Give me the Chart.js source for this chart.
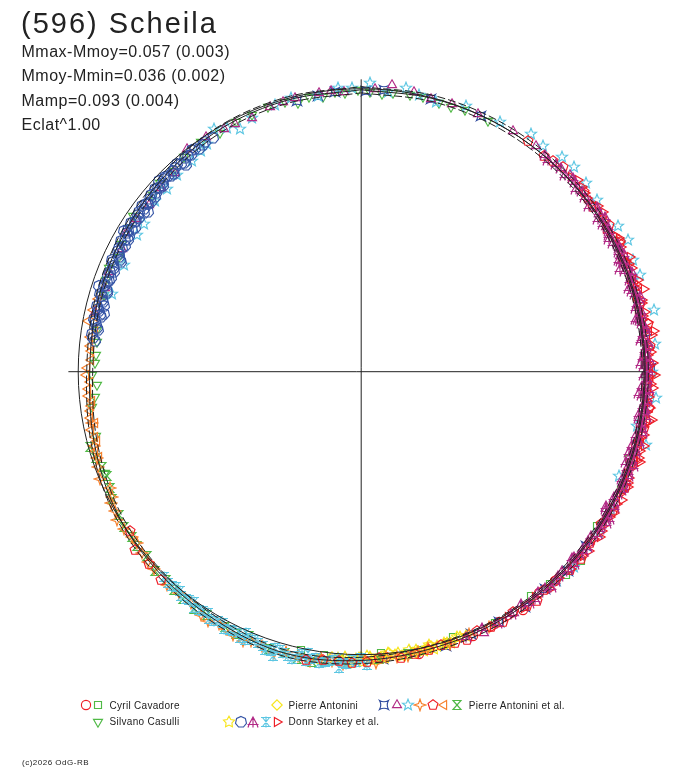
<!DOCTYPE html>
<html>
<head>
<meta charset="utf-8">
<script src="https://cdn.jsdelivr.net/npm/chart.js@4.4.0/dist/chart.umd.min.js"></script>
<style>
html,body{margin:0;padding:0;background:#fff;}
#wrap{position:relative;width:688px;height:768px;overflow:hidden;background:#fff;}
#c{position:absolute;left:0;top:0;}
.t{position:absolute;font-family:"Liberation Sans",Arial,sans-serif;color:#222;white-space:nowrap;line-height:1;}
.ic{position:absolute;image-rendering:pixelated;}
</style>
</head>
<body>
<div id="wrap"><canvas id="c" width="688" height="768"></canvas></div>
<script>
// ---------- texts ----------
const titleText = "(596) Scheila";
const statLines = ["Mmax-Mmoy=0.057 (0.003)", "Mmoy-Mmin=0.036 (0.002)", "Mamp=0.093 (0.004)", "Eclat^1.00"];
const creditText = "(c)2026 OdG-RB";

// ---------- fitted light curve (phase, magnitude relative to mean) ----------
const fitPhase = [0.000,0.0417,0.0833,0.125,0.1667,0.2083,0.250,0.2917,0.3333,0.375,0.4167,0.4583,
                  0.500,0.5417,0.5833,0.625,0.6667,0.7083,0.750,0.7917,0.8333,0.875,0.9167,0.9583];
const fitMag   = [0.006,0.004,0.002,0.000,-0.004,-0.004,-0.004,-0.004,-0.004,-0.004,-0.006,-0.008,
                  -0.020,-0.031,-0.018,-0.007,0.004,0.026,0.045,0.040,0.034,0.023,0.011,0.008];
const fitErr = 0.012;

// ---------- observations [phase, dmag] ----------
const cavadoreCircle = [[0.381,-0.010],[0.392,-0.004],[0.405,-0.016],[0.420,-0.008],[0.436,-0.014],[0.451,-0.006],[0.468,-0.018],[0.486,-0.012],[0.263,-0.020],[0.289,-0.012]];
const cavadoreSquare = [[0.300,0.004],[0.318,-0.008],[0.342,0.006],[0.363,-0.025],[0.374,-0.020],[0.384,-0.002],[0.397,0.008],[0.422,-0.007],[0.447,0.011],[0.449,-0.004],[0.466,-0.004],[0.489,0.006],[0.512,-0.016],[0.521,-0.010],[0.534,-0.006]];
const casulli = [[0.742,0.072],[0.729,0.046],[0.755,0.064],[0.768,0.067],[0.796,0.058],[0.812,0.040],[0.828,0.046],[0.845,0.026],[0.862,0.038],[0.880,0.030],[0.903,0.011],[0.926,0.014],[0.946,0.009],[0.956,0.012],[0.963,0.029],[0.978,0.024],[0.991,0.017],[0.998,0.007],[0.012,0.020],[0.018,0.012],[0.028,0.010],[0.045,0.016],[0.060,0.006],[0.075,0.010],[0.690,0.030],[0.712,0.040],
  [0.735,0.060],[0.748,0.054],[0.760,0.070],[0.775,0.062],[0.805,0.048],[0.820,0.060],[0.838,0.040],[0.870,0.028],[0.890,0.020],[0.915,0.022],[0.936,0.018],[0.970,0.016],[0.985,0.008],[0.005,0.014],[0.035,0.006],[0.052,0.014]];
const antoniniDiamond = [[0.452,-0.008],[0.460,0.002],[0.468,-0.004],[0.476,-0.010],[0.484,0.004],[0.492,-0.014],[0.500,-0.006],[0.508,-0.020],[0.516,-0.012],[0.524,-0.026]];
const alConcave = [[0.963,0.020],[0.975,0.016],[0.985,0.010],[0.003,0.012],[0.013,0.004],[0.040,0.006],[0.070,0.002],[0.232,-0.014],[0.248,-0.026],[0.355,-0.006],[0.372,-0.014],[0.388,-0.004],[0.403,-0.012],[0.420,-0.008],[0.437,-0.002],[0.452,-0.014],[0.470,-0.006],[0.488,-0.016]];
const alTriangle = [[0.785,0.040],[0.800,0.052],[0.825,0.055],[0.845,0.044],[0.868,0.046],[0.880,0.041],[0.894,0.001],[0.907,0.006],[0.918,0.016],[0.935,0.027],[0.947,0.014],[0.962,0.007],[0.976,0.006],[0.990,0.012],[0.017,-0.017],[0.030,-0.004],[0.052,0.004],[0.148,-0.010],[0.183,-0.002],[0.226,-0.012],[0.268,-0.006],[0.312,-0.014],[0.358,-0.004],[0.410,-0.010],[0.430,-0.018],
  [0.810,0.048],[0.835,0.040],[0.856,0.052],[0.925,0.020],[0.955,0.010],[0.983,0.004],[0.008,0.002],[0.040,0.008],[0.068,0.000],[0.090,-0.004],[0.105,-0.006],[0.130,-0.012],[0.165,-0.004],[0.205,-0.016],[0.247,-0.004],[0.290,-0.016],[0.335,-0.006],[0.385,-0.012]];
const alStar = [[0.798,0.086],[0.817,0.094],[0.837,0.084],[0.845,0.079],[0.870,0.066],[0.892,0.050],[0.900,0.042],[0.913,-0.003],[0.926,0.048],[0.935,0.027],[0.950,0.012],[0.987,-0.004],[0.005,-0.019],[0.015,0.010],[0.025,-0.014],[0.043,0.014],[0.081,-0.011],[0.099,-0.034],[0.120,-0.039],[0.128,-0.046],[0.139,-0.037],[0.168,-0.047],[0.177,-0.055],[0.197,-0.046],[0.217,-0.060],[0.235,-0.044],[0.264,-0.050],[0.281,0.006],[0.311,0.020],[0.330,-0.010],[0.368,-0.021],[0.380,-0.012],
  [0.860,0.060],[0.880,0.056],[0.905,0.034],[0.920,0.020],[0.960,0.004],[0.975,0.016],[0.995,0.000],[0.033,0.004],[0.060,-0.008],[0.108,-0.026],[0.150,-0.030],[0.188,-0.040],[0.250,-0.030],[0.290,-0.040],[0.345,-0.016]];
const alStar4 = [[0.695,0.013],[0.681,0.022],[0.673,0.003],[0.663,-0.009],[0.651,0.002],[0.640,-0.006],[0.629,-0.013],[0.610,-0.012],[0.593,-0.030],[0.582,-0.024],[0.572,-0.036],[0.562,-0.028],[0.548,-0.040],[0.535,-0.030],[0.522,-0.022],[0.510,-0.034],[0.498,-0.018],[0.486,-0.010],[0.474,-0.016],[0.462,-0.004],[0.450,-0.012],[0.438,-0.002],[0.426,-0.010],[0.707,0.024],[0.720,0.034],
  [0.700,0.020],[0.688,0.004],[0.676,0.016],[0.668,0.000],[0.657,-0.006],[0.646,0.004],[0.634,-0.010],[0.618,-0.020],[0.601,-0.016],[0.588,-0.036],[0.577,-0.028],[0.566,-0.042],[0.555,-0.032],[0.542,-0.026],[0.528,-0.040],[0.516,-0.028],[0.504,-0.022],[0.492,-0.030],[0.480,-0.014],[0.468,-0.008]];
const alPentagon = [[0.100,-0.004],[0.112,0.002],[0.118,-0.006],[0.142,-0.012],[0.165,-0.020],[0.188,-0.008],[0.212,-0.016],[0.236,-0.026],[0.258,-0.012],[0.281,-0.020],[0.302,-0.006],[0.330,-0.015],[0.352,-0.010],[0.371,-0.018],[0.389,-0.007],[0.402,-0.013],[0.418,-0.016],[0.433,-0.004],[0.447,-0.012],[0.462,-0.010],[0.478,-0.022],[0.505,-0.030],[0.512,-0.024],[0.521,-0.028],[0.530,-0.036],[0.622,-0.020],[0.633,-0.014],[0.644,-0.020],[0.654,0.008],
  [0.124,-0.014],[0.152,-0.004],[0.176,-0.024],[0.200,-0.010],[0.224,-0.030],[0.247,-0.018],[0.270,-0.028],[0.292,-0.008],[0.316,-0.022],[0.340,-0.004],[0.362,-0.020],[0.380,-0.008],[0.396,-0.022],[0.410,-0.004],[0.425,-0.012],[0.440,-0.020],[0.455,-0.006],[0.470,-0.016],[0.490,-0.012],[0.497,-0.026]];
const alLeftTri = [[0.700,0.030],[0.709,0.038],[0.716,0.026],[0.723,0.031],[0.730,0.040],[0.736,0.034],[0.744,0.044],[0.752,0.034],[0.757,0.050],[0.762,0.048],[0.770,0.036],[0.779,0.020],[0.786,0.032],[0.793,0.040],
  [0.704,0.022],[0.712,0.034],[0.720,0.046],[0.727,0.036],[0.733,0.048],[0.740,0.038],[0.748,0.030],[0.765,0.042],[0.775,0.054],[0.782,0.046]];
const alHourglass = [[0.707,0.008],[0.694,0.026],[0.681,0.022],[0.665,0.007],[0.651,0.002],[0.637,0.003],[0.620,-0.008],[0.606,-0.022],[0.578,-0.021],[0.564,-0.015],[0.551,-0.034],[0.535,-0.040],[0.520,-0.030],[0.508,-0.036],[0.490,-0.018],[0.474,-0.010],
  [0.700,0.016],[0.688,0.030],[0.675,0.012],[0.658,0.000],[0.645,-0.004],[0.628,-0.012],[0.613,-0.016],[0.598,-0.026],[0.590,-0.018],[0.571,-0.028],[0.542,-0.030],[0.527,-0.042]];
const starkeyStar = [[0.440,-0.004],[0.445,0.006],[0.449,-0.010],[0.453,0.000],[0.457,-0.006],[0.461,0.008],[0.465,-0.012],[0.469,-0.002],[0.473,0.004],[0.477,-0.014],[0.481,-0.006],[0.485,0.002],[0.489,-0.010],[0.493,-0.018],[0.497,-0.004],[0.501,-0.012],[0.505,-0.022],[0.509,-0.008],[0.513,-0.016],[0.517,-0.026],
  [0.443,0.002],[0.451,-0.006],[0.459,-0.014],[0.463,-0.002],[0.471,-0.010],[0.479,0.000],[0.487,-0.016],[0.495,-0.008],[0.499,-0.024],[0.503,-0.014],[0.507,-0.030],[0.511,-0.020]];
const starkeyHept = [[0.768,0.058],[0.772,0.044],[0.775,0.066],[0.778,0.052],[0.781,0.040],[0.784,0.061],[0.787,0.049],[0.790,0.070],[0.793,0.055],[0.796,0.043],[0.799,0.063],[0.802,0.050],[0.805,0.058],[0.808,0.045],[0.811,0.066],[0.814,0.052],[0.817,0.040],[0.820,0.059],[0.823,0.047],[0.826,0.055],[0.829,0.038],[0.832,0.060],[0.835,0.044],[0.838,0.052],[0.841,0.036],[0.844,0.048],[0.847,0.041],[0.850,0.055],[0.853,0.033],[0.856,0.046],[0.859,0.038],[0.862,0.050],[0.865,0.030],[0.868,0.042],[0.871,0.035],[0.874,0.026],[0.877,0.040],[0.880,0.031],[0.884,0.022],[0.888,0.036],[0.892,0.027],[0.896,0.018],[0.900,0.030],[0.905,0.021],[0.910,0.026],
  [0.770,0.050],[0.776,0.058],[0.780,0.047],[0.783,0.069],[0.786,0.055],[0.789,0.043],[0.792,0.062],[0.795,0.050],[0.798,0.068],[0.801,0.046],[0.804,0.054],[0.807,0.064],[0.810,0.049],[0.813,0.058],[0.816,0.046],[0.819,0.067],[0.822,0.053],[0.825,0.044],[0.828,0.061],[0.831,0.049],[0.834,0.056],[0.837,0.041],[0.840,0.058],[0.843,0.045],[0.846,0.052],[0.849,0.039],[0.852,0.047],[0.855,0.040],[0.858,0.053],[0.861,0.034],[0.864,0.044],[0.867,0.037],[0.870,0.045],[0.873,0.031],[0.876,0.034],[0.879,0.042],[0.882,0.028],[0.886,0.033],[0.890,0.024],[0.894,0.032],[0.898,0.022],[0.903,0.027],
  [0.785,0.078],[0.800,0.030],[0.818,0.076],[0.835,0.028],[0.852,0.066],[0.870,0.020],[0.888,0.048]];
const starkeyTripod = [[0.112,-0.002],[0.120,-0.004],[0.128,0.002],[0.135,-0.010],[0.141,-0.006],[0.150,0.004],[0.156,-0.012],[0.163,-0.002],[0.168,-0.008],[0.172,0.006],[0.177,-0.015],[0.181,-0.004],[0.186,0.001],[0.190,-0.011],[0.194,-0.019],[0.198,-0.003],[0.202,0.008],[0.206,-0.007],[0.210,-0.014],[0.214,0.003],[0.218,-0.009],[0.221,-0.001],[0.225,-0.017],[0.229,-0.006],[0.232,0.005],[0.236,-0.012],[0.240,-0.004],[0.243,-0.020],[0.247,0.002],[0.250,-0.008],[0.254,-0.013],[0.258,0.007],[0.261,-0.005],[0.265,-0.016],[0.269,-0.002],[0.272,-0.010],[0.276,0.004],[0.280,-0.007],[0.284,-0.018],[0.288,-0.003],[0.292,0.009],[0.296,-0.011],[0.300,-0.006],[0.305,0.001],[0.309,-0.014],[0.314,-0.004],[0.318,-0.009],[0.323,0.005],[0.328,-0.012],[0.333,-0.002],[0.338,-0.016],[0.343,-0.007],[0.349,0.003],[0.355,-0.010],[0.361,-0.005],[0.367,-0.013],[0.374,0.002],[0.381,-0.008],[0.388,-0.003],[0.396,-0.011],[0.404,0.004],[0.412,-0.006],[0.421,-0.009],[0.430,0.000],[0.440,-0.005],[0.160,-0.020],[0.185,0.010],[0.245,0.012],[0.275,-0.022],[0.302,0.012],[0.335,-0.020],[0.365,0.008],
  [0.115,0.004],[0.124,-0.008],[0.132,-0.014],[0.138,0.004],[0.145,-0.003],[0.153,-0.016],[0.159,0.007],[0.166,-0.011],[0.170,-0.001],[0.175,0.003],[0.179,-0.009],[0.183,-0.018],[0.188,-0.006],[0.192,0.004],[0.196,-0.013],[0.200,-0.007],[0.204,0.000],[0.208,-0.021],[0.212,-0.004],[0.216,-0.012],[0.220,0.006],[0.223,-0.008],[0.227,-0.014],[0.231,0.000],[0.234,-0.019],[0.238,-0.006],[0.242,0.003],[0.245,-0.010],[0.249,-0.016],[0.252,0.001],[0.256,-0.006],[0.260,-0.019],[0.263,0.003],[0.267,-0.009],[0.271,-0.014],[0.274,0.008],[0.278,-0.004],[0.282,-0.012],[0.286,0.002],[0.290,-0.015],[0.294,-0.005],[0.298,0.004],[0.303,-0.017],[0.307,-0.008],[0.312,0.006],[0.316,-0.012],[0.321,-0.001],[0.326,-0.007],[0.331,0.008],[0.336,-0.010],[0.341,-0.003],[0.346,-0.013],[0.352,0.000],[0.358,-0.008],[0.364,0.005],[0.371,-0.010],[0.378,-0.002],[0.385,-0.014],[0.392,0.003],[0.400,-0.007],
  [0.190,0.016],[0.220,0.014],[0.262,0.018],[0.296,0.012],[0.330,0.016]];
const starkeyAster = [[0.505,-0.018],[0.510,-0.030],[0.515,-0.022],[0.520,-0.034],[0.525,-0.026],[0.530,-0.040],[0.535,-0.028],[0.540,-0.036],[0.545,-0.024],[0.550,-0.038],[0.555,-0.030],[0.560,-0.020],[0.565,-0.032],[0.570,-0.018],[0.575,-0.026],[0.580,-0.012],[0.585,-0.022],[0.590,-0.010],[0.595,-0.018],[0.600,-0.006],[0.605,-0.014],[0.610,-0.004],[0.615,-0.010],
  [0.500,-0.012],[0.503,-0.026],[0.508,-0.036],[0.513,-0.016],[0.518,-0.028],[0.523,-0.042],[0.528,-0.030],[0.533,-0.020],[0.538,-0.044],[0.543,-0.032],[0.548,-0.022],[0.553,-0.040],[0.558,-0.028],[0.563,-0.018],[0.568,-0.036],[0.573,-0.022],[0.578,-0.030],[0.583,-0.016],[0.588,-0.026],[0.593,-0.012],[0.598,-0.022],[0.603,-0.008],[0.608,-0.016],[0.613,-0.002],[0.618,-0.012],[0.622,-0.004],
  [0.512,-0.050],[0.530,-0.010],[0.548,-0.052],[0.566,-0.008],[0.497,-0.036]];
const starkeyRightTri = [[0.131,-0.010],[0.139,-0.018],[0.146,-0.006],[0.153,-0.021],[0.159,-0.012],[0.166,-0.003],[0.171,-0.016],[0.176,-0.024],[0.182,-0.009],[0.187,-0.014],[0.192,-0.028],[0.197,-0.006],[0.201,-0.019],[0.205,-0.011],[0.210,-0.025],[0.215,-0.004],[0.219,-0.017],[0.223,-0.030],[0.228,-0.013],[0.233,-0.008],[0.237,-0.022],[0.241,-0.015],[0.245,-0.034],[0.249,-0.010],[0.253,-0.020],[0.257,-0.027],[0.262,-0.007],[0.266,-0.018],[0.270,-0.031],[0.275,-0.012],[0.279,-0.023],[0.283,-0.005],[0.287,-0.019],[0.291,-0.036],[0.296,-0.014],[0.300,-0.025],[0.305,-0.009],[0.310,-0.021],[0.315,-0.030],[0.320,-0.012],[0.326,-0.018],[0.331,-0.026],[0.337,-0.008],[0.343,-0.020],[0.349,-0.013],[0.356,-0.024],[0.363,-0.006],[0.370,-0.016],[0.378,-0.011],[0.386,-0.019],[0.395,-0.004],[0.404,-0.014],[0.414,-0.009],[0.424,-0.017],
  [0.135,-0.022],[0.143,-0.013],[0.150,-0.004],[0.157,-0.026],[0.162,-0.015],[0.169,-0.008],[0.174,-0.029],[0.179,-0.018],[0.184,-0.003],[0.189,-0.022],[0.195,-0.012],[0.199,-0.031],[0.203,-0.016],[0.208,-0.006],[0.212,-0.021],[0.217,-0.027],[0.221,-0.010],[0.226,-0.019],[0.230,-0.038],[0.235,-0.016],[0.239,-0.028],[0.243,-0.006],[0.247,-0.020],[0.251,-0.029],[0.255,-0.014],[0.259,-0.036],[0.264,-0.024],[0.268,-0.010],[0.272,-0.022],[0.277,-0.033],[0.281,-0.015],[0.285,-0.026],[0.289,-0.010],[0.294,-0.024],[0.298,-0.031],[0.303,-0.017],[0.308,-0.006],[0.313,-0.024],[0.318,-0.015],[0.323,-0.028],[0.329,-0.010],[0.334,-0.020],[0.340,-0.014],[0.346,-0.027],[0.353,-0.009],[0.360,-0.019],[0.367,-0.012],
  [0.205,-0.042],[0.228,-0.046],[0.252,-0.040],[0.276,-0.044],[0.300,-0.038],[0.186,-0.036]];

// ---------- geometry / style constants ----------
const R = 288;                 // reference circle radius (scale units)
const AX_LEFT = -298, AX_RIGHT = 289, AX_TOP = 297, AX_BOTTOM = -288;
const COL = {red:'#ee1c25', green:'#4fb945', yellow:'#f7e51b', blue:'#2f4a9e', blue2:'#3554a6', magenta:'#b22a86', cyan:'#5cc6e2', orange:'#f7802c', ink:'#222222'};

function toXY(ph, dm) {
  const th = (90 - 360 * ph) * Math.PI / 180;
  const r = R * Math.pow(10, -0.4 * dm);
  return {x: r * Math.cos(th), y: r * Math.sin(th)};
}

function makeIcon(kind, color) {
  const s = 14, c = 7;
  const cv = document.createElement('canvas');
  cv.width = s; cv.height = s;
  const g = cv.getContext('2d');
  g.strokeStyle = color; g.lineWidth = 1.15; g.beginPath();
  const poly = (n, r, rot) => { for (let i = 0; i < n; i++) { const a = rot + i * 2 * Math.PI / n; const x = c + r * Math.sin(a), y = c - r * Math.cos(a); if (i) g.lineTo(x, y); else g.moveTo(x, y); } g.closePath(); };
  const star = (n, ro, ri) => { for (let i = 0; i < 2 * n; i++) { const a = i * Math.PI / n; const r = i % 2 ? ri : ro; const x = c + r * Math.sin(a), y = c - r * Math.cos(a); if (i) g.lineTo(x, y); else g.moveTo(x, y); } g.closePath(); };
  switch (kind) {
    case 'circle': g.arc(c, c, 4.6, 0, 2 * Math.PI); break;
    case 'square': g.rect(c - 3.5, c - 3.5, 7, 7); break;
    case 'tri': poly(3, 5.2, 0); break;
    case 'dtri': poly(3, 5.2, Math.PI); break;
    case 'ltri': poly(3, 5.2, -Math.PI / 2); break;
    case 'rtri': poly(3, 5.2, Math.PI / 2); break;
    case 'diamond': poly(4, 5.2, 0); break;
    case 'pent': poly(5, 5.2, 0); break;
    case 'hept': poly(7, 5.6, 0); break;
    case 'star5': star(5, 5.8, 2.5); break;
    case 'star5b': star(5, 5.8, 3.1); break;
    case 'star4': star(4, 5.8, 2.1); break;
    case 'concave':
      g.moveTo(c - 4.5, c - 4.5);
      g.quadraticCurveTo(c, c - 2, c + 4.5, c - 4.5);
      g.quadraticCurveTo(c + 2, c, c + 4.5, c + 4.5);
      g.quadraticCurveTo(c, c + 2, c - 4.5, c + 4.5);
      g.quadraticCurveTo(c - 2, c, c - 4.5, c - 4.5);
      g.closePath(); break;
    case 'hourglass':
      g.moveTo(c - 4, c - 4.5); g.lineTo(c + 4, c - 4.5); g.lineTo(c - 4, c + 4.5); g.lineTo(c + 4, c + 4.5); g.closePath(); break;
    case 'tripod':
      g.moveTo(c, c - 5); g.lineTo(c + 4, c + 2.5); g.lineTo(c - 4, c + 2.5); g.closePath();
      g.moveTo(c - 5.5, c + 2.5); g.lineTo(c + 5.5, c + 2.5);
      g.moveTo(c, c - 5); g.lineTo(c, c + 5.5);
      g.moveTo(c - 4, c + 2.5); g.lineTo(c - 5, c + 5.5);
      g.moveTo(c + 4, c + 2.5); g.lineTo(c + 5, c + 5.5); break;
    case 'aster':
      g.moveTo(c - 5, c - 4.5); g.lineTo(c + 5, c - 4.5);
      g.moveTo(c - 3.5, c - 4.5); g.lineTo(c + 3.5, c + 4.5);
      g.moveTo(c + 3.5, c - 4.5); g.lineTo(c - 3.5, c + 4.5);
      g.moveTo(c - 5, c + 4.5); g.lineTo(c + 5, c + 4.5);
      g.moveTo(c, c - 5.5); g.lineTo(c, c + 5.5); break;
  }
  g.stroke();
  return cv;
}

const series = [
  {data: starkeyHept, kind: 'hept', color: COL.blue2},
  {data: starkeyTripod, kind: 'tripod', color: COL.magenta},
  {data: starkeyRightTri, kind: 'rtri', color: COL.red},
  {data: alPentagon, kind: 'pent', color: COL.red},
  {data: alTriangle, kind: 'tri', color: COL.magenta},
  {data: alStar, kind: 'star5', color: COL.cyan},
  {data: starkeyAster, kind: 'aster', color: COL.cyan},
  {data: alStar4, kind: 'star4', color: COL.orange},
  {data: alLeftTri, kind: 'ltri', color: COL.orange},
  {data: alHourglass, kind: 'hourglass', color: COL.green},
  {data: starkeyStar, kind: 'star5b', color: COL.yellow},
  {data: antoniniDiamond, kind: 'diamond', color: COL.yellow},
  {data: alConcave, kind: 'concave', color: COL.blue},
  {data: casulli, kind: 'dtri', color: COL.green},
  {data: cavadoreSquare, kind: 'square', color: COL.green},
  {data: cavadoreCircle, kind: 'circle', color: COL.red}
];

function fitLine(offset) {
  const pts = [];
  for (let i = 0; i <= fitPhase.length; i++) {
    const k = i % fitPhase.length;
    pts.push(toXY(fitPhase[k], fitMag[k] + offset));
  }
  return pts;
}

const lineDatasets = [
  {data: fitLine(0), showLine: true, borderColor: COL.ink, borderWidth: 1, pointRadius: 0, tension: 0.34, fill: false},
  {data: fitLine(-fitErr), showLine: true, borderColor: COL.ink, borderWidth: 1, borderDash: [8, 3], pointRadius: 0, tension: 0.34, fill: false},
  {data: fitLine(fitErr), showLine: true, borderColor: COL.ink, borderWidth: 1, borderDash: [8, 3], pointRadius: 0, tension: 0.34, fill: false}
];

const pointDatasets = series.map(s => ({
  data: s.data.map(p => toXY(p[0], p[1])),
  showLine: false,
  pointStyle: makeIcon(s.kind, s.color),
  pointRadius: 5
}));

const framePlugin = {
  id: 'frame',
  beforeDatasetsDraw(chart) { chart.ctx.imageSmoothingEnabled = false; },
  afterDatasetsDraw(chart) {
    const ctx = chart.ctx, xs = chart.scales.x, ys = chart.scales.y;
    const cx = xs.getPixelForValue(0), cy = ys.getPixelForValue(0);
    ctx.save();
    ctx.strokeStyle = COL.ink; ctx.lineWidth = 1; ctx.setLineDash([]);
    ctx.beginPath();
    ctx.arc(cx, cy, xs.getPixelForValue(R) - cx, 0, 2 * Math.PI);
    ctx.stroke();
    ctx.beginPath();
    ctx.moveTo(xs.getPixelForValue(AX_LEFT), cy); ctx.lineTo(xs.getPixelForValue(AX_RIGHT), cy);
    ctx.moveTo(cx, ys.getPixelForValue(AX_TOP)); ctx.lineTo(cx, ys.getPixelForValue(AX_BOTTOM));
    ctx.stroke();
    ctx.restore();
  }
};

new Chart(document.getElementById('c'), {
  type: 'scatter',
  data: {datasets: lineDatasets.concat(pointDatasets)},
  options: {
    responsive: false, animation: false, events: [],
    layout: {padding: 0},
    plugins: {legend: {display: false}, tooltip: {enabled: false}, title: {display: false}},
    scales: {
      x: {type: 'linear', min: -361.5, max: 326.5, display: false},
      y: {type: 'linear', min: -396.5, max: 371.5, display: false}
    }
  },
  plugins: [framePlugin]
});

// ---------- HTML texts & legend ----------
const wrap = document.getElementById('wrap');
function addText(txt, left, top, size, spacing) {
  const d = document.createElement('div');
  d.className = 't'; d.textContent = txt;
  d.style.left = left + 'px'; d.style.top = top + 'px';
  d.style.fontSize = size + 'px'; d.style.letterSpacing = spacing + 'px';
  wrap.appendChild(d);
}
function addIcon(kind, color, cx, cy) {
  const cv = makeIcon(kind, color);
  cv.className = 'ic'; cv.style.left = Math.round(cx - 7) + 'px'; cv.style.top = Math.round(cy - 7) + 'px';
  wrap.appendChild(cv);
}
addText(titleText, 21, 9, 29, 2);
const statTops = [43.5, 68, 92.5, 117];
statLines.forEach((s, i) => addText(s, 21.5, statTops[i], 16, 0.5));
addText(creditText, 22, 759, 8, 0.5);

const legendRows = [705, 721.5];
const legendEntries = [
  {label: 'Cyril Cavadore', row: 0, tx: 110, icons: [['circle', COL.red, 85.7], ['square', COL.green, 97.7]]},
  {label: 'Silvano Casulli', row: 1, tx: 110, icons: [['dtri', COL.green, 97.7]]},
  {label: 'Pierre Antonini', row: 0, tx: 289, icons: [['diamond', COL.yellow, 277]]},
  {label: 'Donn Starkey et al.', row: 1, tx: 289, icons: [['star5b', COL.yellow, 229.3], ['hept', COL.blue2, 241], ['tripod', COL.magenta, 252.7], ['aster', COL.cyan, 265.7], ['rtri', COL.red, 277.3]]},
  {label: 'Pierre Antonini et al.', row: 0, tx: 469.3, icons: [['concave', COL.blue, 384.3], ['tri', COL.magenta, 396.7], ['star5', COL.cyan, 408.3], ['star4', COL.orange, 420], ['pent', COL.red, 432.7], ['ltri', COL.orange, 444.3], ['hourglass', COL.green, 456.7]]}
];
legendEntries.forEach(e => {
  const cy = legendRows[e.row];
  e.icons.forEach(ic => addIcon(ic[0], ic[1], ic[2], cy));
  addText(e.label, e.tx - 0.5, cy - 4.5, 10, 0.3);
});
</script>
</body>
</html>
